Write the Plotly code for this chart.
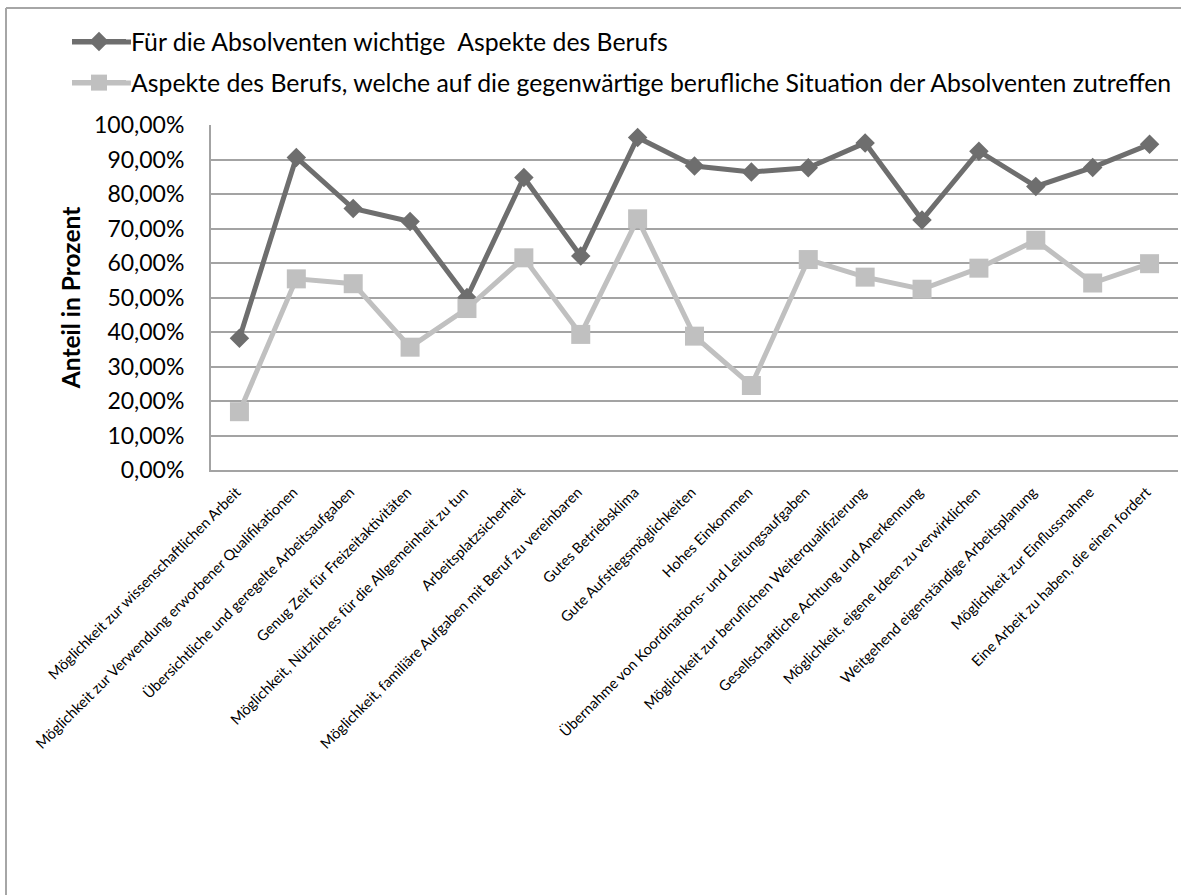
import plotly.graph_objects as go

categories = [
    "Möglichkeit zur wissenschaftlichen Arbeit",
    "Möglichkeit zur Verwendung erworbener Qualifikationen",
    "Übersichtliche und geregelte Arbeitsaufgaben",
    "Genug Zeit für Freizeitaktivitäten",
    "Möglichkeit, Nützliches für die Allgemeinheit zu tun",
    "Arbeitsplatzsicherheit",
    "Möglichkeit, familiäre Aufgaben mit Beruf zu vereinbaren",
    "Gutes Betriebsklima",
    "Gute Aufstiegsmöglichkeiten",
    "Hohes Einkommen",
    "Übernahme von Koordinations- und Leitungsaufgaben",
    "Möglichkeit zur beruflichen Weiterqualifizierung",
    "Gesellschaftliche Achtung und Anerkennung",
    "Möglichkeit, eigene Ideen zu verwirklichen",
    "Weitgehend eigenständige Arbeitsplanung",
    "Möglichkeit zur Einflussnahme",
    "Eine Arbeit zu haben, die einen fordert",
]

wichtig = [38.2, 90.6, 75.8, 72.0, 50.0, 84.8, 62.0, 96.4, 88.1, 86.4,
           87.6, 94.8, 72.5, 92.4, 82.2, 87.7, 94.4]
zutreffend = [16.9, 55.4, 54.0, 35.6, 46.8, 61.5, 39.3, 72.8, 38.8, 24.5,
              61.0, 55.9, 52.4, 58.5, 66.6, 54.2, 59.8]

name_wichtig = "Für die Absolventen wichtige  Aspekte des Berufs"
name_zutreffend = ("Aspekte des Berufs, welche auf die gegenwärtige berufliche "
                   "Situation der Absolventen zutreffen")

y_ticks = [0, 10, 20, 30, 40, 50, 60, 70, 80, 90, 100]
y_ticktext = [f"{v:.2f}".replace(".", ",") + "%" for v in y_ticks]

DARK = "#6e6e6e"
LIGHT = "#c0c0c0"
GRID = "#a3a3a3"
FONT = "Lato"

fig = go.Figure()
fig.add_trace(go.Scatter(
    x=categories, y=wichtig, name=name_wichtig, mode="lines+markers",
    line=dict(color=DARK, width=5),
    marker=dict(symbol="diamond", size=15, color=DARK),
    legend="legend",
))
fig.add_trace(go.Scatter(
    x=categories, y=zutreffend, name=name_zutreffend, mode="lines+markers",
    line=dict(color=LIGHT, width=5),
    marker=dict(symbol="square", size=19, color=LIGHT),
    legend="legend2",
))

W, H = 1201, 895
L, R, T, B = 211, 23, 125, 425
pw, ph = W - L - R, H - T - B


def px(x):
    return (x - L) / pw


def py(y):
    return (H - B - y) / ph


# outer chart frame (left and top edges)
frame = dict(type="line", xref="paper", yref="paper",
             line=dict(color="#a6a6a6", width=2), layer="below")
fig.add_shape(frame, x0=px(6), x1=px(6), y0=py(8), y1=py(900))
fig.add_shape(frame, x0=px(6), x1=px(1181), y0=py(8), y1=py(8))

# longer legend swatch lines
for yy, col in ((42, DARK), (83, LIGHT)):
    fig.add_shape(type="line", xref="paper", yref="paper",
                  x0=px(72), x1=px(131), y0=py(yy), y1=py(yy),
                  line=dict(color=col, width=5), layer="above")

legend_font = dict(family=FONT, size=24.8, color="#000000")
fig.update_layout(
    width=W, height=H,
    margin=dict(l=L, r=R, t=T, b=B, autoexpand=False),
    paper_bgcolor="white", plot_bgcolor="white",
    font=dict(family=FONT, color="#000000"),
    showlegend=True,
    legend=dict(x=px(67), y=py(42), xanchor="left", yanchor="middle",
                font=legend_font, bgcolor="rgba(0,0,0,0)", itemwidth=54),
    legend2=dict(x=px(67), y=py(83), xanchor="left", yanchor="middle",
                 font=legend_font, bgcolor="rgba(0,0,0,0)", itemwidth=54),
    xaxis=dict(
        type="category", range=[-0.5, 16.5], tickangle=-45, automargin=False,
        tickfont=dict(family=FONT, size=14.6, color="#000000"),
        ticklabelstandoff=6, ticklabelshift=-3,
        showgrid=False, showline=True, linecolor=GRID, linewidth=2,
        ticks="", zeroline=False,
    ),
    yaxis=dict(
        range=[0, 100], tickvals=y_ticks, ticktext=y_ticktext,
        automargin=False, ticklabelstandoff=20,
        tickfont=dict(family=FONT, size=23, color="#000000"),
        showgrid=True, gridcolor=GRID, gridwidth=2,
        showline=True, linecolor=GRID, linewidth=2, zeroline=False,
        ticks="",
        title=dict(text="<b>Anteil in Prozent</b>",
                   font=dict(family=FONT, size=24.5, color="#000000"),
                   standoff=6),
    ),
)

fig.write_html("out.html")
